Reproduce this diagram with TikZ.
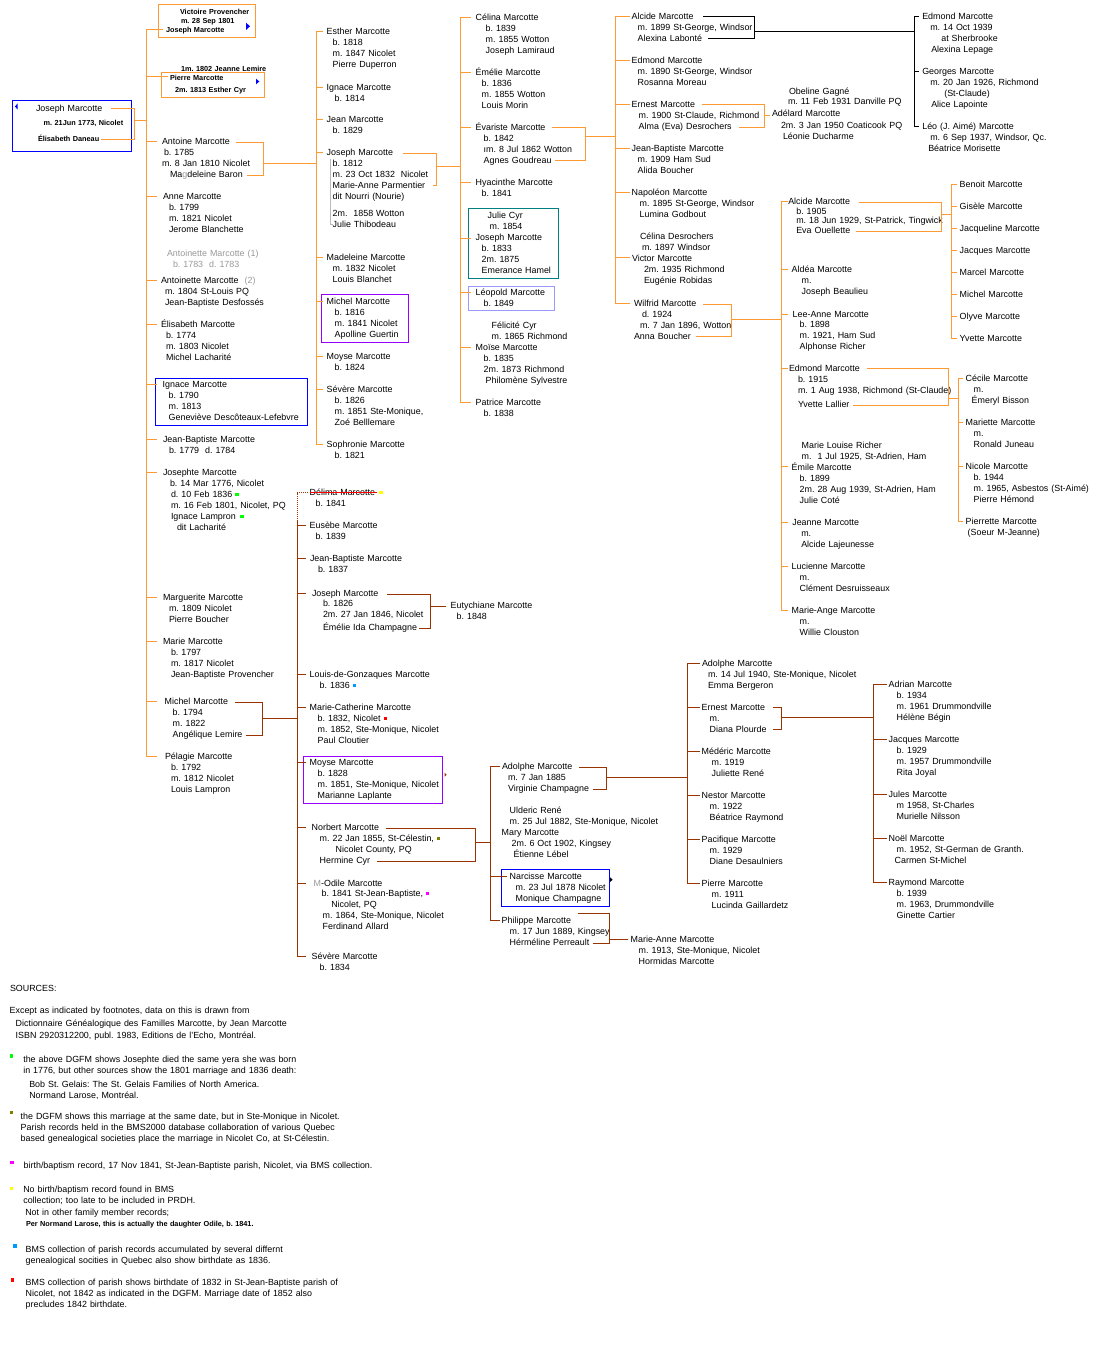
\documentclass[tikz,border=0pt]{standalone}
\usepackage{fontspec}
\setmainfont{Liberation Sans}
\definecolor{orng}{HTML}{FF9933}
\definecolor{brwn}{HTML}{993300}
\definecolor{vio}{HTML}{9900FF}
\definecolor{tealb}{HTML}{008080}
\definecolor{lblue}{HTML}{9999FF}
\definecolor{gry}{HTML}{999999}
\definecolor{lgry}{HTML}{BBBBBB}
\definecolor{sqblue}{HTML}{0099FF}
\definecolor{sqgreen}{HTML}{00FF00}
\definecolor{sqolive}{HTML}{808000}
\definecolor{sqmag}{HTML}{FF00FF}
\definecolor{sqyel}{HTML}{FFFF00}
\newcommand\ind[1]{\hspace*{#1pt}}
\newcommand\sq[1]{\textcolor{#1}{\rule[1.6pt]{3.3pt}{3.3pt}}}
\tikzset{
 tb/.style={anchor=north west, inner sep=0pt, outer sep=0pt, text width=420pt, align=left},
 pn/.style={tb, font=\fontsize{8.9}{11}\selectfont\frenchspacing, execute at begin node={\rule{0pt}{9pt}}, yshift=5.8pt},
 sm/.style={tb, font=\fontsize{7.3}{9}\selectfont\bfseries\frenchspacing, execute at begin node={\rule{0pt}{7.5pt}}, yshift=4.9pt},
 o/.style={draw=orng, line width=1pt},
 br/.style={draw=brwn, line width=1pt},
 bk/.style={draw=black, line width=1pt},
 vb/.style={line cap=rect},
 frame/.style={line width=1pt},
}
\newcommand\pp[5][pn]{\coordinate (#2-t) at (#3,#4); \node[#1] (#2) at (#3,#4) {#5};}
\newcommand\tk[4][o]{\draw[#1] (#2 |- #4) -- (#3 |- #4);}
\begin{document}
\frenchspacing
\begin{tikzpicture}[x=1pt,y=-1pt]
\useasboundingbox[fill=white] (0,0) rectangle (1100,1346);

% ---------- bar coordinates
\coordinate (bA) at (146.5,0); \coordinate (eA) at (157,0);
\coordinate (eA2) at (163,0); \coordinate (eA3) at (167.7,0);
\coordinate (bB) at (316,0); \coordinate (eB) at (323.3,0);
\coordinate (bC) at (460,0); \coordinate (eC) at (470.7,0);
\coordinate (bD) at (615.7,0); \coordinate (eD) at (630.3,0);
\coordinate (bE) at (914.3,0); \coordinate (eE) at (919.3,0);
\coordinate (bF) at (781.3,0); \coordinate (eF) at (787.7,0);
\coordinate (bG) at (951.3,0); \coordinate (eG) at (957.3,0);
\coordinate (bH) at (958.3,0); \coordinate (eH) at (963.3,0);
\coordinate (bI) at (297.3,0); \coordinate (eI) at (306,0); \coordinate (eIdot) at (308,0);
\coordinate (bJ) at (490,0); \coordinate (eJ) at (500,0); \coordinate (eJ2) at (506.7,0);
\coordinate (bK) at (687,0); \coordinate (eK) at (700,0);
\coordinate (bL) at (873.3,0); \coordinate (eL) at (886.7,0);

% ---------- frames
\draw[blue,frame] (12.3,100) rectangle (131.7,151.7);
\draw[orng,frame] (158,5) rectangle (255,38);
\draw[orng,frame] (161.3,72.3) rectangle (264.3,97.3);
\draw[blue,frame] (155.3,378.3) rectangle (307.3,425.3);
\draw[vio,frame] (321.3,294.3) rectangle (408.7,342.3);
\draw[tealb,frame] (468.3,208.3) rectangle (558.3,278.3);
\draw[lblue,frame] (468.3,286.3) rectangle (554.3,310);
\draw[vio,frame] (303.3,756.3) rectangle (442.3,803.3);
\draw[blue,frame] (501.7,869.3) rectangle (609.7,906.7);

% ---------- triangles
\fill[blue] (246,22.7) -- (250,26.3) -- (246,30) -- cycle;
\fill[blue] (256,78.7) -- (259.3,81.5) -- (256,84.3) -- cycle;
\fill[blue] (17.7,103.3) -- (15,106.5) -- (17.7,109.7) -- cycle;
\fill[brwn] (444.7,772.7) -- (446.7,774.7) -- (444.7,776.7) -- cycle;
\fill[black] (610,877.3) -- (612.7,879.7) -- (610,882) -- cycle;

% ---------- root
\pp{root}{36}{108.7}{Joseph Marcotte}
\pp[sm]{rootm}{43.7}{123}{m. 21Jun 1773, Nicolet}
\pp[sm]{rootw}{38}{139}{Élisabeth Daneau}

% ---------- column A
\pp[sm]{vic}{166}{12}{\ind{14}Victoire Provencher\\\ind{15}m. 28 Sep 1801\\Joseph Marcotte}
\coordinate (vic-j) at (166,29.5);
\pp[sm]{pierre}{170}{68.7}{\ind{11}1m. 1802 Jeanne Lemire\\[0.3pt]Pierre Marcotte\\[3pt]\ind{5}2m. 1813 Esther Cyr}
\coordinate (pierre-j) at (170,76.7);
\pp{antoine}{162}{141.7}{Antoine Marcotte\\\ind{2}b. 1785\\m. 8 Jan 1810 Nicolet\\\ind{8}Ma\textcolor{gry}{g}deleine Baron}
\pp{anne}{163}{196.7}{Anne Marcotte\\\ind{6}b. 1799\\\ind{6}m. 1821 Nicolet\\\ind{6}Jerome Blanchette}
\pp[pn,text=gry]{antoinetteA}{167}{253.7}{Antoinette Marcotte (1)\\\ind{6}b. 1783\ \ d. 1783}
\pp{antoinetteB}{161}{280.7}{Antoinette Marcotte\ \ \textcolor{gry}{(2)}\\\ind{4}m. 1804 St-Louis PQ\\\ind{4}Jean-Baptiste Desfossés}
\pp{elisabeth}{161}{324.3}{Élisabeth Marcotte\\\ind{5}b. 1774\\\ind{5}m. 1803 Nicolet\\\ind{5}Michel Lacharité}
\pp{ignace}{162.7}{384.3}{Ignace Marcotte\\\ind{6}b. 1790\\\ind{6}m. 1813\\\ind{6}Geneviève Descôteaux-Lefebvre}
\pp{jbA}{163}{439.3}{Jean-Baptiste Marcotte\\\ind{6}b. 1779\ \ d. 1784}
\pp{josephte}{163}{472.7}{Josephte Marcotte\\\ind{7}b. 14 Mar 1776, Nicolet\\\ind{8}d. 10 Feb 1836\ \sq{sqgreen}\\\ind{8}m. 16 Feb 1801, Nicolet, PQ\\\ind{8}Ignace Lampron\ \,\sq{sqgreen}\\\ind{14}dit Lacharité}
\pp{marguerite}{163}{597.7}{Marguerite Marcotte\\\ind{6}m. 1809 Nicolet\\\ind{6}Pierre Boucher}
\pp{marie}{163}{641.7}{Marie Marcotte\\\ind{8}b. 1797\\\ind{8}m. 1817 Nicolet\\\ind{8}Jean-Baptiste Provencher}
\pp{michelA}{164.7}{701.7}{Michel Marcotte\\\ind{8}b. 1794\\\ind{8}m. 1822\\\ind{8}Angélique Lemire}
\pp{pelagie}{165}{756.7}{Pélagie Marcotte\\\ind{6}b. 1792\\\ind{6}m. 1812 Nicolet\\\ind{6}Louis Lampron}

% ---------- column B (Antoine's children)
\pp{esther}{326.7}{31.7}{Esther Marcotte\\\ind{6}b. 1818\\\ind{6}m. 1847 Nicolet\\\ind{6}Pierre Duperron}
\pp{ignaceB}{326.7}{87}{Ignace Marcotte\\\ind{8}b. 1814}
\pp{jean}{326.7}{119.7}{Jean Marcotte\\\ind{6}b. 1829}
\pp{josephB}{326.7}{152.7}{Joseph Marcotte\\\ind{6}b. 1812\\\ind{6}m. 23 Oct 1832\ \ Nicolet\\\ind{6}Marie-Anne Parmentier\\\ind{6}dit Nourri (Nourie)\\[6pt]\ind{6}2m.\ \ 1858 Wotton\\\ind{6}Julie Thibodeau}
\pp{madeleine}{326.7}{257.7}{Madeleine Marcotte\\\ind{6}m. 1832 Nicolet\\\ind{6}Louis Blanchet}
\pp{michelB}{326.7}{301.7}{Michel Marcotte\\\ind{8}b. 1816\\\ind{8}m. 1841 Nicolet\\\ind{8}Apolline Guertin}
\pp{moyseB}{326.7}{356.7}{Moyse Marcotte\\\ind{8}b. 1824}
\pp{severeB}{326.7}{389.7}{Sévère Marcotte\\\ind{8}b. 1826\\\ind{8}m. 1851 Ste-Monique,\\\ind{8}Zoé Belllemare}
\pp{sophronie}{326.7}{444.3}{Sophronie Marcotte\\\ind{8}b. 1821}

% ---------- column C (Joseph's children)
\pp{celina}{475.7}{17.3}{Célina Marcotte\\\ind{10}b. 1839\\\ind{10}m. 1855 Wotton\\\ind{10}Joseph Lamiraud}
\pp{emelie}{475.7}{72.3}{Émélie Marcotte\\\ind{6}b. 1836\\\ind{6}m. 1855 Wotton\\\ind{6}Louis Morin}
\pp{evariste}{475.7}{127.3}{Évariste Marcotte\\\ind{8}b. 1842\\\ind{8}ım. 8 Jul 1862 Wotton\\\ind{8}Agnes Goudreau}
\pp{hyacinthe}{475.7}{182.7}{Hyacinthe Marcotte\\\ind{6}b. 1841}
\pp{juliecyr}{475.7}{215.7}{\ind{12}Julie Cyr\\\ind{14}m. 1854\\Joseph Marcotte\\\ind{6}b. 1833\\\ind{6}2m. 1875\\\ind{6}Emerance Hamel}
\coordinate (juliecyr-j) at (475.7,238.3);
\pp{leopold}{475.7}{292.7}{Léopold Marcotte\\\ind{8}b. 1849}
\pp{moise}{475.7}{325.7}{\ind{16}Félicité Cyr\\\ind{16}m. 1865 Richmond\\Moïse Marcotte\\\ind{8}b. 1835\\\ind{8}2m. 1873 Richmond\\\ind{10}Philomène Sylvestre}
\coordinate (moise-j) at (475.7,347.7);
\pp{patrice}{475.7}{402.3}{Patrice Marcotte\\\ind{8}b. 1838}

% ---------- column D (Évariste's children)
\pp{alcideA}{631.7}{16.3}{Alcide Marcotte\\\ind{6}m. 1899 St-George, Windsor\\\ind{6}Alexina Labonté}
\pp{edmondA}{631.7}{60.7}{Edmond Marcotte\\\ind{6}m. 1890 St-George, Windsor\\\ind{6}Rosanna Moreau}
\pp{ernestA}{631.7}{104.3}{Ernest Marcotte\\\ind{7}m. 1900 St-Claude, Richmond\\\ind{7}Alma (Eva) Desrochers}
\pp{jbD}{631.7}{148.7}{Jean-Baptiste Marcotte\\\ind{6}m. 1909 Ham Sud\\\ind{6}Alida Boucher}
\pp{napoleon}{631.7}{192.7}{Napoléon Marcotte\\\ind{8}m. 1895 St-George, Windsor\\\ind{8}Lumina Godbout}
\pp{victor}{632}{236.7}{\ind{8}Célina Desrochers\\\ind{10}m. 1897 Windsor\\Victor Marcotte\\\ind{12}2m. 1935 Richmond\\\ind{12}Eugénie Robidas}
\coordinate (victor-j) at (632,257.3);
\pp{wilfrid}{634}{303.3}{Wilfrid Marcotte\\\ind{8}d. 1924\\\ind{6}m. 7 Jan 1896, Wotton\\Anna Boucher}
\pp{adelard}{772}{91.7}{\ind{17}Obeline Gagné\\[-1pt]\ind{16}m. 11 Feb 1931 Danville PQ\\[1pt]Adélard Marcotte\\[1pt]\ind{9}2m. 3 Jan 1950 Coaticook PQ\\\ind{11}Léonie Ducharme}
\coordinate (adelard-j) at (772,115.3);

% ---------- column E (Alcide's children)
\pp{edmondE}{922.3}{16.3}{Edmond Marcotte\\\ind{8}m. 14 Oct 1939\\\ind{19}at Sherbrooke\\\ind{9}Alexina Lepage}
\pp{georges}{922.3}{71.7}{Georges Marcotte\\\ind{8}m. 20 Jan 1926, Richmond\\\ind{22}(St-Claude)\\\ind{9}Alice Lapointe}
\pp{leo}{922.3}{126.3}{Léo (J. Aimé) Marcotte\\\ind{8}m. 6 Sep 1937, Windsor, Qc.\\\ind{6}Béatrice Morisette}

% ---------- column F (Wilfrid's children)
\pp{alcideF}{788.3}{201.7}{Alcide Marcotte\\[-1.4pt]\ind{8}b. 1905\\[-2pt]\ind{8}m. 18 Jun 1929, St-Patrick, Tingwick\\[-0.6pt]\ind{8}Eva Ouellette}
\pp{aldea}{791.7}{269.3}{Aldéa Marcotte\\\ind{10}m.\\\ind{10}Joseph Beaulieu}
\pp{leeanne}{792.7}{314.3}{Lee-Anne Marcotte\\[-0.6pt]\ind{7}b. 1898\\\ind{7}m. 1921, Ham Sud\\\ind{7}Alphonse Richer}
\pp{edmondF}{789}{368.7}{Edmond Marcotte\\\ind{9}b. 1915\\\ind{9}m. 1 Aug 1938, Richmond (St-Claude)\\[2.6pt]\ind{9}Yvette Lallier}
\pp{emile}{791.7}{445.7}{\ind{10}Marie Louise Richer\\\ind{10}m.\ \ 1 Jul 1925, St-Adrien, Ham\\Émile Marcotte\\\ind{8}b. 1899\\\ind{8}2m. 28 Aug 1939, St-Adrien, Ham\\\ind{8}Julie Coté}
\coordinate (emile-j) at (791.7,466.8);
\pp{jeanne}{792.3}{522.3}{Jeanne Marcotte\\\ind{9}m.\\\ind{9}Alcide Lajeunesse}
\pp{lucienne}{791.7}{566.3}{Lucienne Marcotte\\\ind{8}m.\\\ind{8}Clément Desruisseaux}
\pp{mange}{791.7}{610.7}{Marie-Ange Marcotte\\\ind{8}m.\\\ind{8}Willie Clouston}

% ---------- column G (Alcide 1905's children)
\pp{benoit}{959.7}{184.3}{Benoit Marcotte}
\pp{gisele}{959.7}{206.3}{Gisèle Marcotte}
\pp{jacqueline}{959.7}{228.3}{Jacqueline Marcotte}
\pp{jacquesG}{959.7}{250.3}{Jacques Marcotte}
\pp{marcel}{959.7}{272.3}{Marcel Marcotte}
\pp{michelG}{959.7}{294.3}{Michel Marcotte}
\pp{olyve}{959.7}{316.3}{Olyve Marcotte}
\pp{yvette}{959.7}{338.3}{Yvette Marcotte}

% ---------- column H (Edmond 1915's children)
\pp{cecile}{965.7}{378.7}{Cécile Marcotte\\\ind{8}m.\\\ind{6}Émeryl Bisson}
\pp{mariette}{965.7}{422.7}{Mariette Marcotte\\\ind{8}m.\\\ind{8}Ronald Juneau}
\pp{nicole}{965.7}{466.7}{Nicole Marcotte\\\ind{8}b. 1944\\\ind{8}m. 1965, Asbestos (St-Aimé)\\\ind{8}Pierre Hémond}
\pp{pierrette}{965.7}{521.3}{Pierrette Marcotte\\\ind{2}(Soeur M-Jeanne)}

% ---------- column I (Michel 1794's children)
\pp{delima}{309.7}{492.7}{Délima Marcotte\ \,\sq{sqyel}\\\ind{6}b. 1841}
\pp{eusebe}{309.7}{525.3}{Eusèbe Marcotte\\\ind{6}b. 1839}
\pp{jbI}{310}{558.7}{Jean-Baptiste Marcotte\\\ind{8}b. 1837}
\pp{josephI}{312}{593.3}{Joseph Marcotte\\[-0.6pt]\ind{11}b. 1826\\\ind{11}2m. 27 Jan 1846, Nicolet\\[1.6pt]\ind{11}Émélie Ida Champagne}
\pp{eutychiane}{450.7}{605.7}{Eutychiane Marcotte\\[-0.4pt]\ind{6}b. 1848}
\pp{louis}{309.7}{674.7}{Louis-de-Gonzaques Marcotte\\\ind{10}b. 1836\ \sq{sqblue}}
\pp{mcath}{309.7}{707.3}{Marie-Catherine Marcotte\\\ind{8}b. 1832, Nicolet\ \sq{red}\\\ind{8}m. 1852, Ste-Monique, Nicolet\\\ind{8}Paul Cloutier}
\pp{moyseI}{309.7}{762.3}{Moyse Marcotte\\\ind{8}b. 1828\\\ind{8}m. 1851, Ste-Monique, Nicolet\\\ind{8}Marianne Laplante}
\pp{norbert}{311.7}{827.3}{Norbert Marcotte\\\ind{8}m. 22 Jan 1855, St-Célestin,\ \sq{sqolive}\\[-0.4pt]\ind{24}Nicolet County, PQ\\\ind{8}Hermine Cyr}
\pp{odile}{313.7}{883.3}{\textcolor{gry}{M}-Odile Marcotte\\[-0.6pt]\ind{8}b. 1841 St-Jean-Baptiste,\ \sq{sqmag}\\[-0.4pt]\ind{17.6}Nicolet, PQ\\\ind{9}m. 1864, Ste-Monique, Nicolet\\[-0.4pt]\ind{9}Ferdinand Allard}
\pp{severeI}{311.7}{956.3}{Sévère Marcotte\\\ind{8}b. 1834}

% ---------- column J (Norbert's children)
\pp{adolpheJ}{502}{766.7}{Adolphe Marcotte\\\ind{6}m. 7 Jan 1885\\\ind{6}Virginie Champagne}
\pp{mary}{501.7}{810.7}{\ind{8}Ulderic René\\\ind{8}m. 25 Jul 1882, Ste-Monique, Nicolet\\Mary Marcotte\\\ind{10}2m. 6 Oct 1902, Kingsey\\\ind{12}Étienne Lébel}
\pp{narcisse}{509.7}{876.7}{Narcisse Marcotte\\\ind{6}m. 23 Jul 1878 Nicolet\\\ind{6}Monique Champagne}
\pp{philippe}{501.7}{920.3}{Philippe Marcotte\\\ind{8}m. 17 Jun 1889, Kingsey\\\ind{8}Hérméline Perreault}
\pp{marieanne}{630.7}{939.3}{Marie-Anne Marcotte\\\ind{8}m. 1913, Ste-Monique, Nicolet\\\ind{8}Hormidas Marcotte}

% ---------- column K (Adolphe's children)
\pp{adolpheK}{702}{663.7}{Adolphe Marcotte\\\ind{6}m. 14 Jul 1940, Ste-Monique, Nicolet\\\ind{6}Emma Bergeron}
\pp{ernestK}{701.7}{707.7}{Ernest Marcotte\\\ind{8}m.\\[-0.4pt]\ind{8}Diana Plourde}
\pp{mederic}{701.7}{751.7}{Médéric Marcotte\\[-0.4pt]\ind{10}m. 1919\\\ind{10}Juliette René}
\pp{nestor}{701.7}{795.7}{Nestor Marcotte\\\ind{8}m. 1922\\\ind{8}Béatrice Raymond}
\pp{pacifique}{701.7}{839.7}{Pacifique Marcotte\\\ind{8}m. 1929\\[-0.4pt]\ind{8}Diane Desaulniers}
\pp{pierreK}{701.7}{883.7}{Pierre Marcotte\\\ind{10}m. 1911\\\ind{10}Lucinda Gaillardetz}

% ---------- column L (Ernest's children)
\pp{adrian}{888.7}{684.7}{Adrian Marcotte\\\ind{8}b. 1934\\\ind{8}m. 1961 Drummondville\\\ind{8}Hélène Bégin}
\pp{jacquesL}{888.7}{739.7}{Jacques Marcotte\\\ind{8}b. 1929\\\ind{8}m. 1957 Drummondville\\\ind{8}Rita Joyal}
\pp{jules}{888.7}{794.7}{Jules Marcotte\\\ind{8}m 1958, St-Charles\\\ind{8}Murielle Nilsson}
\pp{noel}{888.7}{838.7}{Noël Marcotte\\\ind{8}m. 1952, St-German de Granth.\\\ind{6}Carmen St-Michel}
\pp{raymond}{888.7}{882.7}{Raymond Marcotte\\\ind{8}b. 1939\\\ind{8}m. 1963, Drummondville\\\ind{8}Ginette Cartier}

% ---------- sources
\pp{srcA}{10}{988.7}{SOURCES:}
\pp{srcB}{9.7}{1010.3}{Except as indicated by footnotes, data on this is drawn from\\[2pt]\ind{6}Dictionnaire Généalogique des Familles Marcotte, by Jean Marcotte\\[0.7pt]\ind{6}ISBN 2920312200, publ. 1983, Editions de l'Echo, Montréal.}
\pp{srcC}{23.3}{1059.7}{the above DGFM shows Josephte died the same yera she was born\\in 1776, but other sources show the 1801 marriage and 1836 death:\\[3pt]\ind{6}Bob St. Gelais: The St. Gelais Families of North America.\\[-0.4pt]\ind{6}Normand Larose, Montréal.}
\pp{srcD}{20.7}{1116.7}{the DGFM shows this marriage at the same date, but in Ste-Monique in Nicolet.\\Parish records held in the BMS2000 database collaboration of various Quebec\\based genealogical societies place the marriage in Nicolet Co, at St-Célestin.}
\pp{srcE}{23.7}{1165.3}{birth/baptism record, 17 Nov 1841, St-Jean-Baptiste parish, Nicolet, via BMS collection.}
\pp{srcF}{23.3}{1189.3}{No birth/baptism record found in BMS\\[0.4pt]collection; too late to be included in PRDH.\\[1pt]\ind{2}Not in other family member records;}
\pp[sm]{srcG}{26}{1224.3}{Per Normand Larose, this is actually the daughter Odile, b. 1841.}
\pp{srcH}{25.7}{1249.7}{BMS collection of parish records accumulated by several differnt\\genealogical socities in Quebec also show birthdate as 1836.}
\pp{srcI}{25.7}{1282.3}{BMS collection of parish shows birthdate of 1832 in St-Jean-Baptiste parish of\\Nicolet, not 1842 as indicated in the DGFM. Marriage date of 1852 also\\precludes 1842 birthdate.}
\fill[sqgreen] (9.7,1054.3) rectangle (13,1057.7);
\fill[sqolive] (9.7,1111) rectangle (13,1114.3);
\fill[sqmag] (10.3,1161) rectangle (13.7,1164.3);
\fill[sqyel] (10,1186.7) rectangle (13.3,1190);
\fill[sqblue] (13.3,1244.3) rectangle (16.7,1247.7);
\fill[red] (11,1278.3) rectangle (14.3,1281.7);

% ---------- Délima strike-through
\draw[red,line width=1pt] (delima-t) -- ++(67.6,0);

% ---------- connectors: bars and ticks
% A
\draw[o,vb] (bA |- vic-j) -- (bA |- pelagie-t);
\tk{bA}{eA2}{vic-j} \tk{bA}{eA3}{pierre-j}
\foreach \n in {antoine,anne,antoinetteB,elisabeth,ignace,jbA,josephte,marguerite,marie,michelA,pelagie} {\tk{bA}{eA}{\n-t}}
% B
\draw[o,vb] (bB |- esther-t) -- (bB |- sophronie-t);
\foreach \n in {esther,ignaceB,jean,josephB,madeleine,michelB,moyseB,severeB,sophronie} {\tk{bB}{eB}{\n-t}}
% C
\draw[o,vb] (bC |- celina-t) -- (bC |- patrice-t);
\foreach \n in {celina-t,emelie-t,evariste-t,hyacinthe-t,juliecyr-j,leopold-t,moise-j,patrice-t} {\tk{bC}{eC}{\n}}
% D
\draw[o,vb] (bD |- alcideA-t) -- (bD |- wilfrid-t);
\foreach \n in {alcideA-t,edmondA-t,ernestA-t,jbD-t,napoleon-t,victor-j,wilfrid-t} {\tk{bD}{eD}{\n}}
% E
\draw[bk,vb] (bE |- edmondE-t) -- (bE |- leo-t);
\foreach \n in {edmondE,georges,leo} {\tk[bk]{bE}{eE}{\n-t}}
% F
\draw[o,vb] (bF |- alcideF-t) -- (bF |- mange-t);
\foreach \n in {alcideF-t,aldea-t,leeanne-t,edmondF-t,emile-j,jeanne-t,lucienne-t,mange-t} {\tk{bF}{eF}{\n}}
% G
\draw[o,vb] (bG |- benoit-t) -- (bG |- yvette-t);
\foreach \n in {benoit,gisele,jacqueline,jacquesG,marcel,michelG,olyve,yvette} {\tk{bG}{eG}{\n-t}}
% H
\draw[o,vb] (bH |- cecile-t) -- (bH |- pierrette-t);
\foreach \n in {cecile,mariette,nicole,pierrette} {\tk{bH}{eH}{\n-t}}
% I
\coordinate (bItop) at (297.3,521.7);
\draw[br,dash pattern=on 1pt off 1pt] (eIdot |- delima-t) -- (bI |- delima-t) -- (bItop);
\draw[br,vb] (bItop) -- (bI |- severeI-t);
\foreach \n in {eusebe,jbI,josephI,louis,mcath,moyseI,norbert,odile,severeI} {\tk[br]{bI}{eI}{\n-t}}
% J
\draw[br,vb] (bJ |- adolpheJ-t) -- (bJ |- philippe-t);
\tk[br]{bJ}{eJ}{adolpheJ-t} \tk[br]{bJ}{eJ2}{narcisse-t} \tk[br]{bJ}{eJ}{philippe-t}
% K
\draw[br,vb] (bK |- adolpheK-t) -- (bK |- pierreK-t);
\foreach \n in {adolpheK,ernestK,mederic,nestor,pacifique,pierreK} {\tk[br]{bK}{eK}{\n-t}}
% L
\draw[br,vb] (bL |- adrian-t) -- (bL |- raymond-t);
\foreach \n in {adrian,jacquesL,jules,noel,raymond} {\tk[br]{bL}{eL}{\n-t}}

% ---------- couple brackets and junctions
\draw[o] (111,108.7) -- (134.7,108.7) -- (134.7,139.5) -- (101.3,139.5);
\coordinate (rootJ) at (134.7,120); \draw[o] (rootJ) -- (bA |- rootJ);

\draw[o] (236,142) -- (263.7,142) -- (263.7,175) -- (247,175);
\coordinate (antJ) at (263.7,163.3); \draw[o] (antJ) -- (bB |- antJ);

\draw[o] (403.3,153.3) -- (436.7,153.3) -- (436.7,185.7) -- (432.7,185.7);
\coordinate (josJ) at (436.7,166); \draw[o] (josJ) -- (bC |- josJ);
\draw[lgry,line width=1pt] (330.3,159) -- (330.3,224.7) -- (333,224.7);

\draw[o] (552.3,127.3) -- (585.7,127.3) -- (585.7,160.3) -- (555,160.3);
\coordinate (evJ) at (585.7,136.3); \draw[o] (evJ) -- (bD |- evJ);

\draw[bk] (703.3,16.3) -- (754.3,16.3) -- (754.3,38.7) -- (707.7,38.7);
\coordinate (alcJ) at (754.3,31.3); \draw[bk] (alcJ) -- (bE |- alcJ);

\draw[o] (701.7,104.3) -- (764.7,104.3) -- (764.7,127.3) -- (739,127.3);
\coordinate (ernJ) at (764.7,115.3); \coordinate (adelJ) at (769.7,115.3);
\draw[o] (ernJ) -- (adelJ);

\draw[o] (703.3,304.3) -- (731.7,304.3) -- (731.7,336.7) -- (696,336.7);
\coordinate (wilJ) at (731.7,319.3); \draw[o] (wilJ) -- (bF |- wilJ);

\draw[o] (859.3,202.3) -- (941.7,202.3) -- (941.7,231.3) -- (856.3,231.3);
\coordinate (alc5J) at (941.7,214.3); \draw[o] (alc5J) -- (bG |- alc5J);

\draw[o] (867.3,368.7) -- (948.3,368.7) -- (948.3,405.3) -- (853.3,405.3);
\coordinate (edmJ) at (948.3,398.3); \draw[o] (edmJ) -- (bH |- edmJ);

\draw[br] (235,702) -- (262.7,702) -- (262.7,735.3) -- (246,735.3);
\coordinate (micJ) at (262.7,718.3); \draw[br] (micJ) -- (bI |- micJ);

\draw[br] (387.3,594.3) -- (430.7,594.3) -- (430.7,628.3) -- (419.3,628.3);
\coordinate (jo26J) at (430.7,606.7); \coordinate (eutJ) at (446,606.7);
\draw[br] (jo26J) -- (eutJ);

\draw[br] (385.7,828.3) -- (475.3,828.3) -- (475.3,861.3) -- (376.7,861.3);
\coordinate (norJ) at (475.3,842.3); \draw[br] (norJ) -- (bJ |- norJ);

\draw[br] (579.3,767.3) -- (606.3,767.3) -- (606.3,789.3) -- (592.7,789.3);
\coordinate (adoJ) at (606.3,777.3); \draw[br] (adoJ) -- (bK |- adoJ);

\draw[br] (773,707.7) -- (781.3,707.7) -- (781.3,729.3) -- (773,729.3);
\coordinate (er4J) at (781.3,717.3); \draw[br] (er4J) -- (bL |- er4J);

\draw[br] (578.3,913.3) -- (609.7,913.3) -- (609.7,943) -- (593.3,943);
\coordinate (phiJ) at (609.7,939.3); \coordinate (maJ) at (628,939.3);
\draw[br] (phiJ) -- (maJ);
\end{tikzpicture}
\end{document}
